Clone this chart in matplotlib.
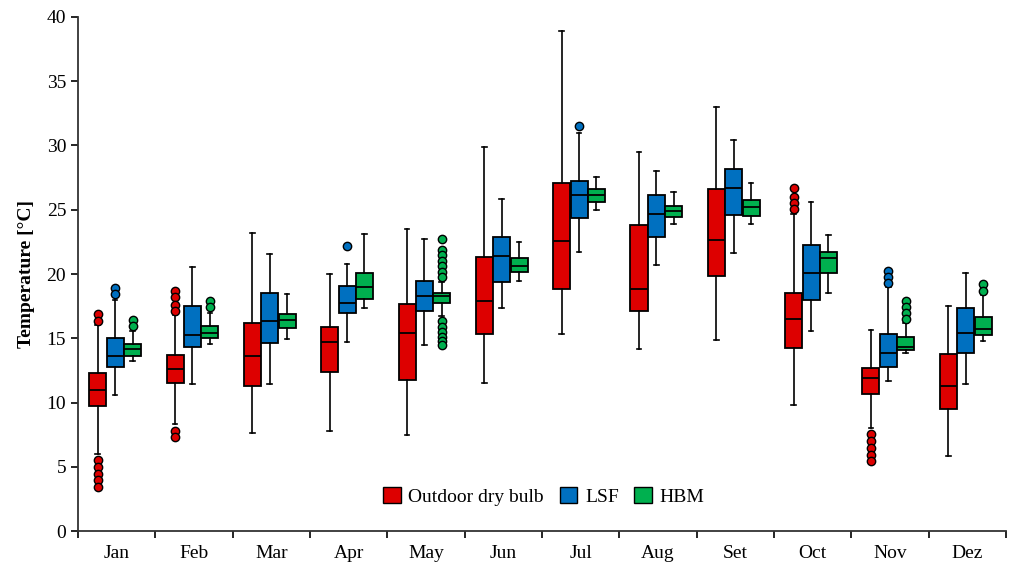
import matplotlib
matplotlib.use("Agg")
import matplotlib.pyplot as plt
import numpy as np
from matplotlib.patches import Patch

MONTHS = ["Jan", "Feb", "Mar", "Apr", "May", "Jun", "Jul", "Aug", "Set", "Oct", "Nov", "Dez"]
SERIES = ["Outdoor dry bulb", "LSF", "HBM"]
COLORS = ["#DD0000", "#0070C0", "#00B04F"]

# Outdoor dry bulb
ODB_LOW = [6.0, 8.3, 7.65, 7.8, 7.5, 11.5, 15.3, 14.2, 14.9, 9.8, 8.0, 5.8]
ODB_Q1 = [9.73, 11.49, 11.26, 12.4, 11.73, 15.3, 18.81, 17.1, 19.82, 14.22, 10.69, 9.49]
ODB_MED = [11.0, 12.63, 13.62, 14.71, 15.43, 17.92, 22.59, 18.81, 22.65, 16.5, 11.93, 11.31]
ODB_Q3 = [12.32, 13.72, 16.21, 15.9, 17.69, 21.3, 27.1, 23.79, 26.61, 18.52, 12.71, 13.8]
ODB_HIGH = [16.0, 16.8, 23.2, 20.0, 23.5, 29.9, 38.9, 29.5, 33.0, 24.7, 15.64, 17.5]
ODB_FLIERS = [
    [16.85, 16.35, 5.5, 5.0, 4.45, 3.95, 3.42],
    [18.7, 18.23, 17.6, 17.12, 7.78, 7.3],
    [], [], [], [], [], [], [],
    [26.72, 26.02, 25.53, 25.03],
    [7.52, 7.0, 6.43, 5.94, 5.42],
    [],
]

# LSF
LSF_LOW = [10.6, 11.46, 11.44, 14.73, 14.47, 17.35, 21.74, 20.72, 21.66, 15.59, 11.7, 11.46]
LSF_Q1 = [12.79, 14.29, 14.66, 16.99, 17.1, 19.4, 24.38, 22.85, 24.59, 17.95, 12.79, 13.83]
LSF_MED = [13.62, 15.28, 16.34, 17.74, 18.26, 21.38, 26.12, 24.67, 26.67, 20.1, 13.83, 15.41]
LSF_Q3 = [15.02, 17.53, 18.55, 19.07, 19.46, 22.88, 27.24, 26.17, 28.15, 22.28, 15.33, 17.38]
LSF_HIGH = [18.0, 20.57, 21.53, 20.8, 22.72, 25.86, 31.0, 28.04, 30.43, 25.58, 19.0, 20.1]
LSF_FLIERS = [
    [18.93, 18.44], [], [], [22.2], [], [], [31.55], [], [], [],
    [20.26, 19.79, 19.32], [],
]

# HBM
HBM_LOW = [13.26, 14.58, 14.94, 17.33, 16.7, 19.43, 24.96, 23.87, 23.89, 18.5, 13.88, 14.81]
HBM_Q1 = [13.62, 15.02, 15.8, 18.03, 17.72, 20.13, 25.58, 24.46, 24.54, 20.1, 14.11, 15.23]
HBM_MED = [14.16, 15.38, 16.42, 18.96, 18.31, 20.65, 26.12, 24.9, 25.24, 21.25, 14.32, 15.7]
HBM_Q3 = [14.58, 15.98, 16.91, 20.05, 18.49, 21.25, 26.61, 25.29, 25.78, 21.74, 15.07, 16.63]
HBM_HIGH = [15.6, 17.0, 18.44, 23.09, 19.4, 22.52, 27.55, 26.41, 27.08, 23.01, 16.2, 18.4]
HBM_FLIERS = [
    [16.42, 15.93], [17.87, 17.4], [], [],
    [22.7, 21.9, 21.5, 21.05, 20.6, 20.15, 19.75, 16.35, 15.9, 15.5, 15.1, 14.75, 14.45],
    [], [], [], [], [],
    [17.87, 17.43, 16.99, 16.52], [19.22, 18.7],
]

SERIES_STATS = [
    (ODB_LOW, ODB_Q1, ODB_MED, ODB_Q3, ODB_HIGH, ODB_FLIERS),
    (LSF_LOW, LSF_Q1, LSF_MED, LSF_Q3, LSF_HIGH, LSF_FLIERS),
    (HBM_LOW, HBM_Q1, HBM_MED, HBM_Q3, HBM_HIGH, HBM_FLIERS),
]
OFFSETS = [-0.245, -0.02, 0.205]
BOX_WIDTH = 0.22

plt.rcParams["font.family"] = "Liberation Serif"

fig = plt.figure(figsize=(10.13, 5.68), dpi=100)
ax = fig.add_axes([0.077, 0.0651, 0.916, 0.905])

for (low, q1, med, q3, high, fliers), offset, color in zip(SERIES_STATS, OFFSETS, COLORS):
    stats = [
        {"whislo": low[i], "q1": q1[i], "med": med[i], "q3": q3[i], "whishi": high[i], "fliers": fliers[i]}
        for i in range(len(MONTHS))
    ]
    positions = np.arange(len(MONTHS)) + offset
    ax.bxp(
        stats,
        positions=positions,
        widths=BOX_WIDTH,
        capwidths=0.06,
        patch_artist=True,
        showfliers=True,
        boxprops={"facecolor": color, "edgecolor": "black", "linewidth": 1.3},
        medianprops={"color": "black", "linewidth": 1.3},
        whiskerprops={"color": "black", "linewidth": 1.2},
        capprops={"color": "black", "linewidth": 1.2},
        flierprops={"marker": "o", "markerfacecolor": color, "markeredgecolor": "black",
                    "markersize": 6, "markeredgewidth": 1.0},
        manage_ticks=False,
    )

ax.set_xlim(-0.5, len(MONTHS) - 0.5)
ax.set_ylim(0, 40)
ax.set_yticks(np.arange(0, 41, 5))
ax.set_xticks(np.arange(len(MONTHS)))
ax.set_xticklabels(MONTHS)
ax.set_xticks(np.arange(-0.5, len(MONTHS)), minor=True)
ax.tick_params(axis="x", which="major", length=0, labelsize=14, pad=10)
ax.tick_params(axis="x", which="minor", length=5, width=1.2, direction="out")
ax.tick_params(axis="y", length=5, width=1.2, labelsize=14)
ax.spines["top"].set_visible(False)
ax.spines["right"].set_visible(False)
ax.spines["left"].set_linewidth(1.3)
ax.spines["bottom"].set_linewidth(1.3)
ax.spines["left"].set_color("#333333")
ax.spines["bottom"].set_color("#333333")
ax.set_ylabel("Temperature [°C]", fontsize=14, fontweight="bold", labelpad=8)

handles = [Patch(facecolor=c, edgecolor="black", linewidth=1.0, label=s) for s, c in zip(SERIES, COLORS)]
ax.legend(handles=handles, loc="center", bbox_to_anchor=(0.502, 0.067), ncol=3, frameon=False,
          fontsize=14, handlelength=0.9, handleheight=0.9, handletextpad=0.4, columnspacing=0.8)

fig.savefig("out.png", dpi=100)
